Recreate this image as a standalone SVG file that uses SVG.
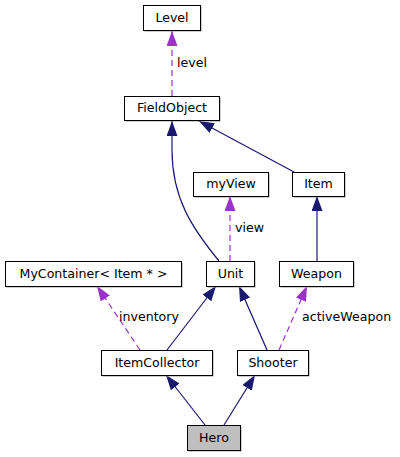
<svg xmlns="http://www.w3.org/2000/svg" width="400" height="457" viewBox="0 0 400 457">
<defs>
<style>
.box{fill:#fff;stroke:#000;stroke-width:1}
.sh{fill:#9a9a9a}
.t{font-family:"DejaVu Sans",sans-serif;font-size:12.6px;fill:#000;text-anchor:middle}
.lbl{font-family:"DejaVu Sans",sans-serif;font-size:12.6px;fill:#000}
.inh{fill:none;stroke:#191970;stroke-width:1.2}
.use{fill:none;stroke:#9a32cd;stroke-width:1.2;stroke-dasharray:6,4}
</style>
<marker id="an" markerUnits="userSpaceOnUse" markerWidth="16" markerHeight="12" refX="15" refY="5.5" orient="auto"><path d="M0,0 L15,5.5 L0,11 z" fill="#191970"/></marker>
<marker id="ap" markerUnits="userSpaceOnUse" markerWidth="16" markerHeight="12" refX="15" refY="5.5" orient="auto"><path d="M0,0 L15,5.5 L0,11 z" fill="#9a32cd"/></marker>
</defs>
<g id="edges">
<path class="use" d="M172,96 L172,31" marker-end="url(#ap)"/>
<path class="inh" d="M219,261 C192,228 172,198 172,150 L172,121" marker-end="url(#an)"/>
<path class="inh" d="M294,172 L199,121" marker-end="url(#an)"/>
<path class="use" d="M230,261 L230,196" marker-end="url(#ap)"/>
<path class="inh" d="M317,261 L317,196" marker-end="url(#an)"/>
<path class="use" d="M140,350 L97,286" marker-end="url(#ap)"/>
<path class="inh" d="M167,350 L216,286" marker-end="url(#an)"/>
<path class="inh" d="M267,350 L239,286" marker-end="url(#an)"/>
<path class="use" d="M279,350 L307,286" marker-end="url(#ap)"/>
<path class="inh" d="M205,425 L166,375" marker-end="url(#an)"/>
<path class="inh" d="M224,425 L255,375" marker-end="url(#an)"/>
<text class="lbl" x="177" y="67">level</text>
<text class="lbl" x="235" y="232">view</text>
<text class="lbl" x="119" y="321">inventory</text>
<text class="lbl" x="302" y="321">activeWeapon</text>
</g>
<g id="Level"><rect class="sh" x="144.5" y="6.5" width="57" height="25"/><rect class="box" x="143.5" y="5.5" width="57" height="25"/><text class="t" x="172" y="22">Level</text></g>
<g id="FieldObject"><rect class="sh" x="125.5" y="97.5" width="95" height="24"/><rect class="box" x="124.5" y="96.5" width="95" height="24"/><text class="t" x="172" y="112">FieldObject</text></g>
<g id="myView"><rect class="sh" x="194.5" y="173.5" width="75" height="24"/><rect class="box" x="193.5" y="172.5" width="75" height="24"/><text class="t" x="231" y="188">myView</text></g>
<g id="Item"><rect class="sh" x="293.5" y="173.5" width="52" height="24"/><rect class="box" x="292.5" y="172.5" width="52" height="24"/><text class="t" x="318.5" y="188">Item</text></g>
<g id="MyContainer"><rect class="sh" x="6.5" y="262.5" width="176" height="25"/><rect class="box" x="5.5" y="261.5" width="176" height="25"/><text class="t" x="93.5" y="278">MyContainer&lt; Item * &gt;</text></g>
<g id="Unit"><rect class="sh" x="207.5" y="262.5" width="48" height="25"/><rect class="box" x="206.5" y="261.5" width="48" height="25"/><text class="t" x="230.5" y="278">Unit</text></g>
<g id="Weapon"><rect class="sh" x="280.5" y="262.5" width="74" height="25"/><rect class="box" x="279.5" y="261.5" width="74" height="25"/><text class="t" x="316.5" y="278">Weapon</text></g>
<g id="ItemCollector"><rect class="sh" x="102.5" y="351.5" width="111" height="25"/><rect class="box" x="101.5" y="350.5" width="111" height="25"/><text class="t" x="157" y="367">ItemCollector</text></g>
<g id="Shooter"><rect class="sh" x="238.5" y="351.5" width="71" height="25"/><rect class="box" x="237.5" y="350.5" width="71" height="25"/><text class="t" x="273" y="367">Shooter</text></g>
<g id="Hero"><rect class="sh" x="188.5" y="426.5" width="53" height="25"/><rect class="box" x="187.5" y="425.5" width="53" height="25" style="fill:#bfbfbf"/><text class="t" x="214" y="442">Hero</text></g>
</svg>
